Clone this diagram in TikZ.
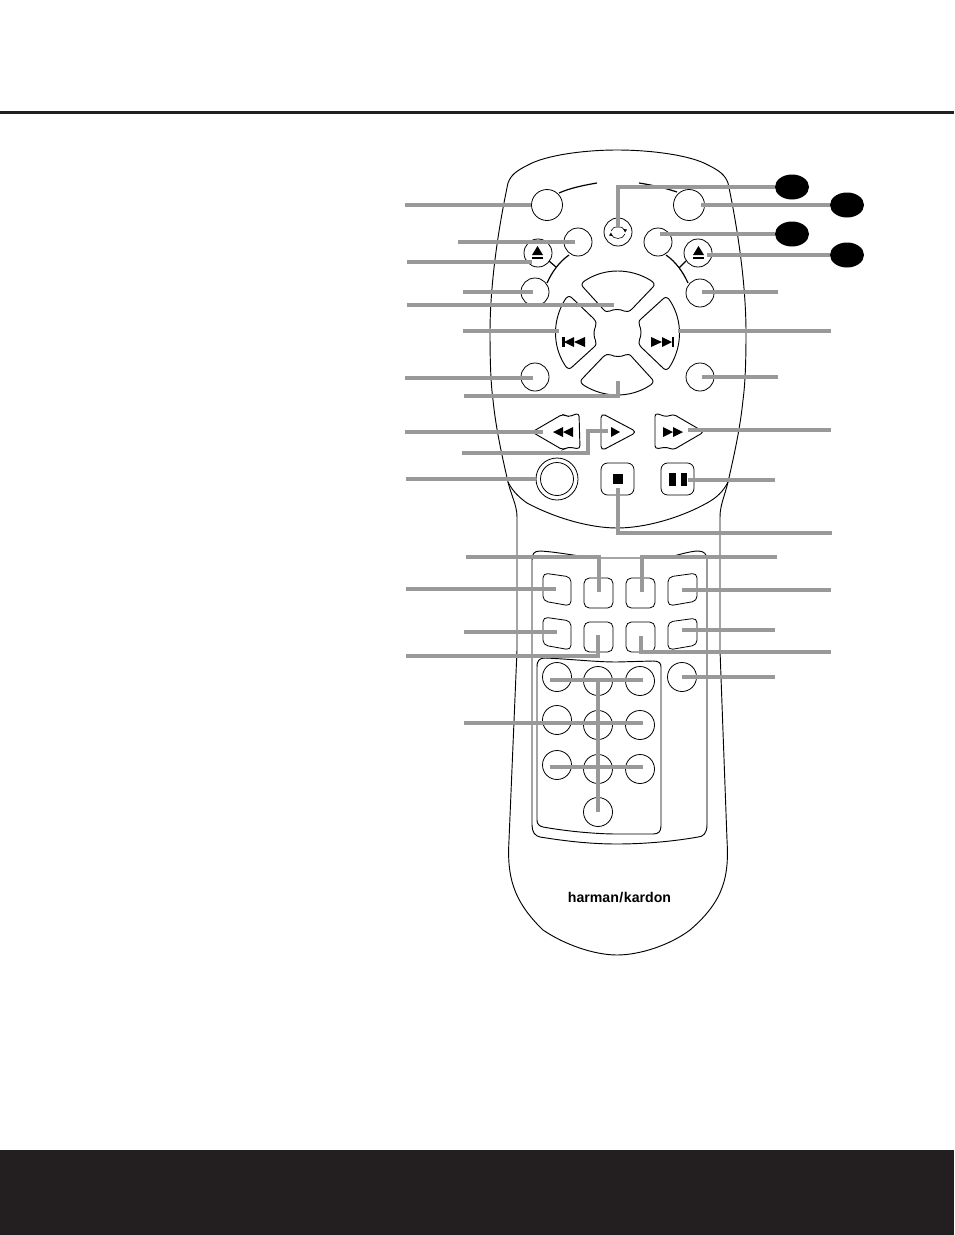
\documentclass[tikz,border=0pt]{standalone}
\usepackage{fontspec}
\setmainfont{Liberation Sans}
\definecolor{dark}{HTML}{231F20}
\definecolor{lead}{HTML}{999999}
\newcommand{\rnd}[5]{\node[#1,minimum width=#4*0.75pt,minimum height=#5*0.75pt] (#2) at (#3) {};}
\tikzset{
 ln/.style={draw=black,line width=0.7pt},
 leader/.style={draw=lead,line width=3pt},
 btn/.style={circle,draw=black,line width=0.6pt,inner sep=0pt,minimum size=28*0.75pt},
 bigbtn/.style={btn,minimum size=31*0.75pt},
 numbtn/.style={btn,minimum size=29*0.75pt},
 keybtn/.style={rectangle,rounded corners=4pt,draw=black,line width=0.6pt,inner sep=0pt},
 tag/.style={ellipse,fill=black,inner sep=0pt,minimum width=34*0.75pt,minimum height=25*0.75pt},
 icon/.style={fill=black,draw=none},
 tilted/.style={draw=black,line width=0.6pt,rounded corners=3.6pt}
}
\usetikzlibrary{shapes.geometric}
\begin{document}
\begin{tikzpicture}[x=0.75pt,y=-0.75pt]
\useasboundingbox (0,0) rectangle (954,1235);
% page furniture
\fill[dark] (0,111) rectangle (954,114);
\fill[dark] (0,1150) rectangle (954,1235);
% remote outline
\draw[ln] (617,150) .. controls (650,150) and (690,155) .. (708,165)
  .. controls (720,171) and (725,175) .. (728,183)
  .. controls (738,230) and (746,285) .. (746,333)
  .. controls (746,365) and (745,385) .. (743,400)
  .. controls (740,430) and (733,460) .. (728,482)
  .. controls (725,495) and (720,505) .. (720,517)
  -- (720,650) -- (727,840)
  .. controls (729,875) and (725,900) .. (690,930)
  .. controls (670,945) and (640,955) .. (617,955)
  .. controls (595,955) and (565,945) .. (543,930)
  .. controls (512,900) and (507,875) .. (509,840)
  -- (517,650) -- (517,517)
  .. controls (517,505) and (511,495) .. (508,482)
  .. controls (503,460) and (496,430) .. (493,400)
  .. controls (491,385) and (490,365) .. (490,333)
  .. controls (490,285) and (498,230) .. (508,183)
  .. controls (511,175) and (516,171) .. (528,165)
  .. controls (546,155) and (585,150) .. (617,150) -- cycle;
\draw[ln] (508,482) .. controls (513,492) and (520,498) .. (527,503)
  .. controls (555,518) and (590,528) .. (617,528)
  .. controls (645,528) and (680,518) .. (707,503)
  .. controls (716,498) and (723,492) .. (728,482);
% keypad surrounds
\draw[ln] (532,825) -- (532,560) .. controls (532,554) and (534,551) .. (540,551)
  .. controls (560,552) and (585,558) .. (603,558) -- (665,558)
  .. controls (675,556) and (690,551) .. (698,551) .. controls (704,551) and (707,554) .. (707,560);
\draw[draw=lead,line width=1.1pt] (707,558) -- (707,825);
\draw[ln] (707,825) .. controls (707,833) and (703,837) .. (698,837)
  .. controls (670,842) and (640,844) .. (617,844)
  .. controls (590,844) and (565,841) .. (540,837)
  .. controls (535,836) and (532,832) .. (532,825);
\draw[ln] (537,820) -- (537,667) .. controls (537,660) and (540,658) .. (545,658)
  .. controls (570,659) and (595,662) .. (617,662) -- (653,661)
  .. controls (659,661) and (661,663) .. (661,667) -- (661,826)
  .. controls (661,832) and (658,834) .. (653,834)
  -- (617,834) .. controls (595,834) and (565,831) .. (543,827)
  .. controls (539,826) and (537,824) .. (537,820);
% top buttons
\node[bigbtn] (powL) at (547,205) {};
\node[bigbtn] (powR) at (689,205) {};
\node[btn] (cyc) at (618,232) {};
\node[btn] (srcL) at (578,242) {};
\node[btn] (srcR) at (658,242) {};
\node[btn] (ejL) at (538,253) {};
\node[btn] (ejR) at (698,253) {};
\node[btn] (midL) at (535,292) {};
\node[btn] (midR) at (700,293) {};
\node[btn] (lowL) at (535,377) {};
\node[btn] (lowR) at (700,377) {};
\draw[ln,line width=0.9pt] (559,193) .. controls (570,188) and (585,185) .. (597,183);
\draw[ln,line width=0.9pt] (639,183) .. controls (652,185) and (665,188) .. (677,192);
\draw[ln,line width=0.9pt] (569,255) .. controls (559,262) and (552,272) .. (547,283);
\draw[ln,line width=0.9pt] (549,261) -- (556,267);
\draw[ln,line width=0.9pt] (666,255) .. controls (676,262) and (683,272) .. (688,283);
\draw[ln,line width=0.9pt] (686,261) -- (679,268);
% cycle symbol
\draw[draw=black,line width=0.45pt] (611,231) .. controls (613,225) and (623,225) .. (625,231);
\draw[draw=black,line width=0.45pt] (625,234) .. controls (623,240) and (613,240) .. (611,234);
\fill[icon] (625,232.5) -- (623.5,229) -- (627,229.5) -- cycle;
\fill[icon] (611,232.5) -- (612.5,236) -- (609,235.5) -- cycle;
% eject symbols
\fill[icon] (537.5,246) -- (543,255) -- (532,255) -- cycle;
\fill[icon] (532,257) rectangle (543,259);
\fill[icon] (698.5,246) -- (704,255) -- (693,255) -- cycle;
\fill[icon] (693,257) rectangle (704,259);
% direction pad
\foreach \a in {0,90,180,270}{
\begin{scope}[rotate around={\a:(617.5,333)}]
\draw[ln] (586,280) .. controls (605,268) and (630,268) .. (650,280)
  .. controls (654,282) and (655,285) .. (653,287) -- (632,309)
  .. controls (629,312) and (626,312) .. (624,311)
  .. controls (620,309) and (614,309) .. (610,311)
  .. controls (608,312) and (605,312) .. (603,309) -- (583,287)
  .. controls (581,285) and (582,282) .. (586,280) -- cycle;
\end{scope}}
\fill[icon] (562,337) rectangle (564.5,347);
\fill[icon] (564,342) -- (574,337) -- (574,347) -- cycle;
\fill[icon] (574,342) -- (585,337) -- (585,347) -- cycle;
\fill[icon] (671.5,337) rectangle (674,347);
\fill[icon] (672,342) -- (662,337) -- (662,347) -- cycle;
\fill[icon] (662,342) -- (651,337) -- (651,347) -- cycle;
% transport
\draw[ln,rounded corners=2.5pt] (532,432) -- (563,414) -- (568,417) -- (579,413) -- (580,449) -- (568,447) -- (563,450) -- cycle;
\draw[ln,rounded corners=3.5pt] (601,413) -- (637,432) -- (601,451) -- cycle;
\draw[ln,rounded corners=2.5pt] (704,432) -- (673,414) -- (667,417) -- (655,413) -- (655,449) -- (667,447) -- (673,450) -- cycle;
\fill[icon] (553,432) -- (563,427) -- (563,437) -- cycle;
\fill[icon] (563,432) -- (573,427) -- (573,437) -- cycle;
\fill[icon] (611,427) -- (620,432) -- (611,437) -- cycle;
\fill[icon] (663,427) -- (673,432) -- (663,437) -- cycle;
\fill[icon] (673,427) -- (683,432) -- (673,437) -- cycle;
\node[circle,draw=black,line width=0.6pt,inner sep=0pt,minimum size=42*0.75pt] (rec) at (557,479) {};
\node[circle,draw=black,line width=0.6pt,inner sep=0pt,minimum size=33*0.75pt] (recin) at (557,479) {};
\rnd{keybtn,rounded corners=5pt}{stop}{617.5,479}{33}{32}
\rnd{keybtn,rounded corners=5pt}{pause}{677.5,479}{33}{32}
\fill[icon] (613,474) rectangle (623,484);
\fill[icon] (669,473) rectangle (676,486);
\fill[icon] (681,473) rectangle (687,486);
% function keys
\rnd{keybtn}{k2}{598.5,593}{29}{30}
\rnd{keybtn}{k3}{640.5,593}{29}{30}
\rnd{keybtn}{k6}{598.5,637}{29}{30}
\rnd{keybtn}{k7}{640.5,637}{29}{30}
\draw[tilted] (543,573) -- (571,577) -- (571,606) -- (543,601) -- cycle;
\draw[tilted] (697,573) -- (668,577) -- (668,606) -- (697,601) -- cycle;
\draw[tilted] (543,617) -- (571,621) -- (571,650) -- (543,645) -- cycle;
\draw[tilted] (697,618) -- (668,622) -- (668,650) -- (697,645) -- cycle;
\coordinate (k1) at (556,589);
\coordinate (k4) at (682,590);
\coordinate (k5) at (557,632);
\coordinate (k8) at (682,630);
% number pad
\node[numbtn] (n1) at (557,677) {};
\node[numbtn] (n2) at (598,681) {};
\node[numbtn] (n3) at (640,681) {};
\node[numbtn] (nx) at (682,677) {};
\node[numbtn] (n4) at (557,720) {};
\node[numbtn] (n5) at (598,725) {};
\node[numbtn] (n6) at (640,725) {};
\node[numbtn] (n7) at (557,765) {};
\node[numbtn] (n8) at (598,769) {};
\node[numbtn] (n9) at (640,769) {};
\node[numbtn] (n0) at (598,812) {};
\node[inner sep=0pt] (logo) at (619.5,898) {\fontsize{10.6pt}{12pt}\selectfont\bfseries harman\kern0.4pt/\kern0.4pt kardon};
% leader free ends
\coordinate (a1) at (405,205);
\coordinate (a2) at (458,242);
\coordinate (a3) at (407,262);
\coordinate (a4) at (463,292);
\coordinate (a5) at (407,305);
\coordinate (a6) at (463,331);
\coordinate (a7) at (405,378);
\coordinate (a8) at (464,396);
\coordinate (a9) at (405,432);
\coordinate (a10) at (462,453);
\coordinate (a11) at (406,479);
\coordinate (a12) at (466,557);
\coordinate (a13) at (406,589);
\coordinate (a14) at (464,632);
\coordinate (a15) at (406,656);
\coordinate (a16) at (464,723);
\coordinate (b1) at (778,292);
\coordinate (b2) at (831,331);
\coordinate (b3) at (778,377);
\coordinate (b4) at (831,430);
\coordinate (b5) at (775,480);
\coordinate (b6) at (832,533);
\coordinate (b7) at (777,557);
\coordinate (b8) at (831,590);
\coordinate (b9) at (775,630);
\coordinate (b10) at (831,652);
\coordinate (b11) at (775,677);
% leader targets
\coordinate (t2) at (575,242);
\coordinate (t3) at (532,262);
\coordinate (t4) at (533,292);
\coordinate (t5) at (614,305);
\coordinate (t6) at (559,331);
\coordinate (t7) at (533,378);
\coordinate (t8) at (618,381);
\coordinate (t9) at (543,432);
\coordinate (t10) at (588,453);
\coordinate (t10b) at (608,431);
\coordinate (t16) at (643,723);
\coordinate (tC) at (618,228);
\coordinate (tB) at (701,205);
\coordinate (tCc) at (660,234);
\coordinate (tD) at (707,255);
\coordinate (tR1) at (702,292);
\coordinate (tR2) at (678,331);
\coordinate (tR3) at (702,377);
\coordinate (tR4) at (688,430);
\coordinate (tR5) at (688,480);
\coordinate (tS) at (618,488);
\coordinate (tk2) at (599,592);
\coordinate (tk3) at (642,592);
\coordinate (tk6) at (598,635);
\coordinate (tk7) at (641,636);
\coordinate (r1a) at (550,680);
\coordinate (r1b) at (643,680);
\coordinate (r3a) at (550,767);
\coordinate (r3b) at (643,767);
\coordinate (vtop) at (598,680);
% callout tags
\node[tag] (tagA) at (792,187) {};
\node[tag] (tagB) at (847,205) {};
\node[tag] (tagC) at (792,234) {};
\node[tag] (tagD) at (847,255) {};
% leaders
\draw[leader] (a1) -- (powL.west);
\draw[leader] (a2) -- (t2);
\draw[leader] (a3) -- (t3);
\draw[leader] (a4) -- (t4);
\draw[leader] (a5) -- (t5);
\draw[leader] (a6) -- (t6);
\draw[leader] (a7) -- (t7);
\draw[leader] (a8) -| (t8);
\draw[leader] (a9) -- (t9);
\draw[leader] (a10) -- (t10) |- (t10b);
\draw[leader] (a11) -- (rec.west);
\draw[leader] (a12) -| (tk2);
\draw[leader] (a13) -- (k1);
\draw[leader] (a14) -- (k5);
\draw[leader] (a15) -| (tk6);
\draw[leader] (a16) -- (t16);
\draw[leader] (tagA.west) -| (tC);
\draw[leader] (tagB.west) -- (tB);
\draw[leader] (tagC.west) -- (tCc);
\draw[leader] (tagD.west) -- (tD);
\draw[leader] (b1) -- (tR1);
\draw[leader] (b2) -- (tR2);
\draw[leader] (b3) -- (tR3);
\draw[leader] (b4) -- (tR4);
\draw[leader] (b5) -- (tR5);
\draw[leader] (b6) -| (tS);
\draw[leader] (b7) -| (tk3);
\draw[leader] (b8) -- (k4);
\draw[leader] (b9) -- (k8);
\draw[leader] (b10) -| (tk7);
\draw[leader] (b11) -- (nx.center);
\draw[leader] (r1a) -- (r1b);
\draw[leader] (r3a) -- (r3b);
\draw[leader] (vtop) -- (n0.center);
\end{tikzpicture}
\end{document}
